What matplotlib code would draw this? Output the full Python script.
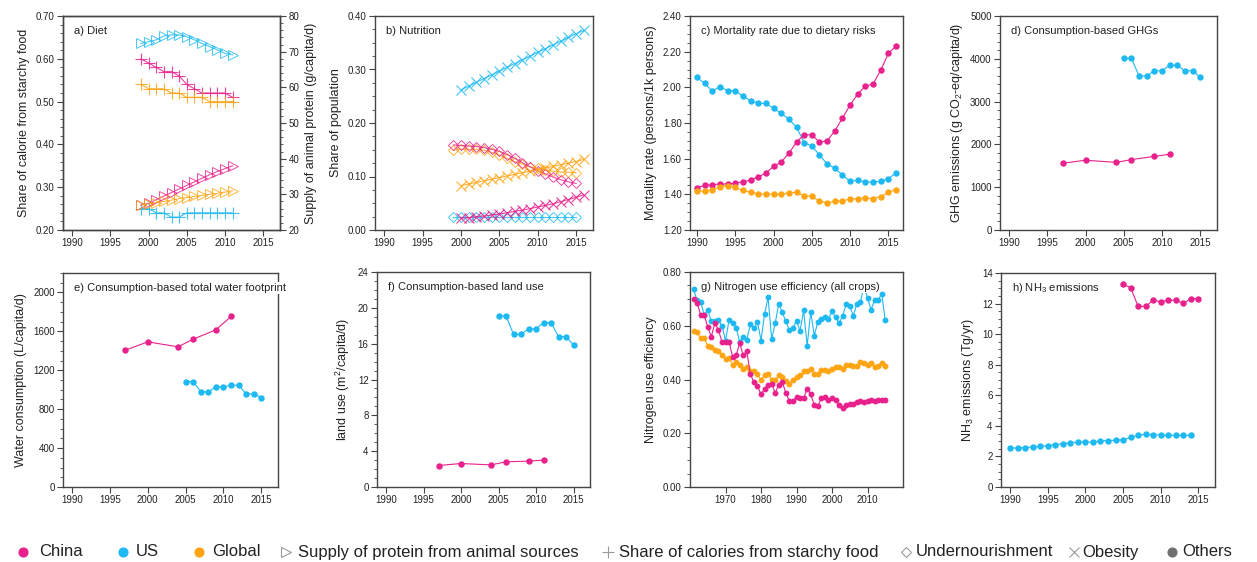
import matplotlib
matplotlib.use("Agg")
import matplotlib.pyplot as plt
from matplotlib.ticker import FormatStrFormatter, AutoMinorLocator, MultipleLocator

plt.rcParams['font.family'] = ['Liberation Sans', 'DejaVu Sans']
plt.rcParams['mathtext.fontset'] = 'custom'
plt.rcParams['mathtext.rm'] = 'Liberation Sans'
plt.rcParams['mathtext.it'] = 'Liberation Sans'

PINK = '#E8218C'
BLUE = '#1EB9F2'
ORANGE = '#FFA514'
TXT = '#222222'
SPINE = '#444444'

# ---------------- data ----------------
# a) Diet
years_a = list(range(1999, 2012))
starch_china = [0.60, 0.59, 0.58, 0.57, 0.57, 0.56, 0.54, 0.53, 0.52, 0.52, 0.52, 0.52, 0.51]
starch_global = [0.54, 0.53, 0.53, 0.53, 0.52, 0.52, 0.51, 0.51, 0.51, 0.50, 0.50, 0.50, 0.50]
starch_us = [0.25, 0.25, 0.24, 0.24, 0.23, 0.23, 0.24, 0.24, 0.24, 0.24, 0.24, 0.24, 0.24]
protein_us = [72.3, 72.8, 73.3, 74.4, 74.7, 74.7, 74.2, 73.3, 72.3, 71.4, 70.5, 69.5, 69.1]
protein_china = [27.0, 27.5, 28.5, 29.5, 30.5, 31.5, 32.5, 33.5, 34.5, 35.5, 36.4, 37.2, 38.0]
protein_global = [27.0, 27.3, 27.7, 28.0, 28.4, 28.8, 29.1, 29.4, 29.7, 30.0, 30.3, 30.6, 31.0]

# b) Nutrition
years_under = list(range(1999, 2016))
under_china = [0.159, 0.158, 0.157, 0.156, 0.154, 0.151, 0.147, 0.141, 0.134, 0.126, 0.118,
               0.111, 0.105, 0.099, 0.094, 0.090, 0.087]
under_global = [0.149, 0.151, 0.151, 0.151, 0.149, 0.145, 0.140, 0.134, 0.128, 0.123, 0.118,
                0.115, 0.112, 0.110, 0.108, 0.108, 0.107]
under_us = [0.025] * 17
years_obes = list(range(2000, 2017))
obes_us = [0.262, 0.269, 0.276, 0.283, 0.290, 0.297, 0.304, 0.311, 0.318, 0.325, 0.332,
           0.339, 0.346, 0.353, 0.360, 0.367, 0.373]
obes_global = [0.083, 0.086, 0.089, 0.092, 0.095, 0.098, 0.101, 0.104, 0.107, 0.110, 0.113,
               0.116, 0.119, 0.122, 0.125, 0.128, 0.132]
obes_china = [0.022, 0.023, 0.025, 0.026, 0.028, 0.030, 0.032, 0.035, 0.037, 0.040, 0.043,
              0.046, 0.049, 0.053, 0.057, 0.061, 0.066]

# c) Mortality
years_c = list(range(1990, 2017))
mort_us = [2.056, 2.022, 1.979, 2.004, 1.981, 1.981, 1.951, 1.925, 1.910, 1.910, 1.882, 1.854,
           1.822, 1.776, 1.690, 1.671, 1.621, 1.570, 1.546, 1.508, 1.473, 1.479, 1.469, 1.469,
           1.473, 1.488, 1.521]
mort_china = [1.436, 1.450, 1.454, 1.458, 1.458, 1.462, 1.471, 1.479, 1.499, 1.518, 1.557, 1.581,
              1.630, 1.692, 1.735, 1.733, 1.693, 1.701, 1.755, 1.828, 1.901, 1.963, 2.007, 2.019,
              2.097, 2.191, 2.232]
mort_global = [1.417, 1.419, 1.424, 1.443, 1.449, 1.439, 1.422, 1.411, 1.402, 1.402, 1.402, 1.400,
               1.409, 1.411, 1.392, 1.389, 1.361, 1.353, 1.361, 1.363, 1.374, 1.376, 1.378, 1.376,
               1.387, 1.413, 1.426]

# d) GHG
years_china_cb = [1997, 2000, 2004, 2006, 2009, 2011]
years_us_cb = list(range(2005, 2016))
ghg_china = [1560, 1630, 1580, 1645, 1720, 1770]
ghg_us = [4010, 4010, 3600, 3600, 3720, 3720, 3850, 3850, 3720, 3720, 3570]

# e) Water
water_china = [1406, 1492, 1441, 1520, 1616, 1753]
water_us = [1084, 1084, 978, 978, 1029, 1029, 1046, 1046, 957, 957, 919]

# f) Land
land_china = [2.40, 2.62, 2.47, 2.81, 2.89, 3.00]
land_us = [19.1, 19.1, 17.05, 17.05, 17.65, 17.65, 18.35, 18.35, 16.8, 16.8, 15.85]

# g) NUE
years_g = list(range(1961, 2016))
nue_us = [0.735, 0.695, 0.689, 0.640, 0.659, 0.616, 0.616, 0.620, 0.600, 0.545,
          0.620, 0.609, 0.593, 0.540, 0.558, 0.548, 0.605, 0.590, 0.615, 0.545,
          0.643, 0.706, 0.550, 0.610, 0.681, 0.650, 0.616, 0.583, 0.590, 0.619,
          0.581, 0.658, 0.525, 0.652, 0.563, 0.614, 0.626, 0.634, 0.624, 0.654,
          0.631, 0.611, 0.636, 0.681, 0.674, 0.637, 0.681, 0.689, 0.745, 0.704,
          0.660, 0.695, 0.695, 0.720, 0.620]
nue_china = [0.700, 0.685, 0.640, 0.640, 0.595, 0.560, 0.610, 0.585, 0.540, 0.540,
             0.540, 0.485, 0.490, 0.535, 0.490, 0.505, 0.420, 0.390, 0.375, 0.345,
             0.365, 0.380, 0.385, 0.350, 0.380, 0.390, 0.350, 0.320, 0.320, 0.335,
             0.330, 0.330, 0.365, 0.345, 0.305, 0.300, 0.330, 0.335, 0.325, 0.330,
             0.325, 0.305, 0.295, 0.305, 0.310, 0.310, 0.315, 0.320, 0.315, 0.320,
             0.325, 0.320, 0.322, 0.323, 0.323]
nue_global = [0.580, 0.575, 0.553, 0.555, 0.525, 0.520, 0.510, 0.505, 0.490, 0.475,
              0.480, 0.455, 0.465, 0.455, 0.440, 0.445, 0.430, 0.430, 0.420, 0.400,
              0.415, 0.420, 0.400, 0.400, 0.415, 0.410, 0.395, 0.385, 0.400, 0.410,
              0.415, 0.430, 0.430, 0.440, 0.420, 0.420, 0.435, 0.435, 0.432, 0.440,
              0.445, 0.445, 0.440, 0.455, 0.455, 0.450, 0.450, 0.465, 0.460, 0.455,
              0.460, 0.445, 0.450, 0.460, 0.450]

# h) NH3
years_h_us = list(range(1990, 2015))
nh3_us = [2.54, 2.56, 2.58, 2.62, 2.66, 2.70, 2.78, 2.82, 2.90, 2.94, 2.95, 2.92, 3.02, 3.04,
          3.06, 3.08, 3.24, 3.38, 3.45, 3.42, 3.40, 3.38, 3.38, 3.38, 3.38]
years_h_china = list(range(2005, 2016))
nh3_china = [13.26, 13.04, 11.82, 11.82, 12.22, 12.12, 12.22, 12.22, 12.02, 12.32, 12.32]

legend_labels = ['China', 'US', 'Global', 'Supply of protein from animal sources',
                 'Share of calories from starchy food', 'Undernourishment', 'Obesity', 'Others']

# ---------------- figure ----------------
W, H = 1257, 562
fig = plt.figure(figsize=(W / 100, H / 100), dpi=100)
YL = 9.0

def rect(l, r, t, b):
    return [l / W, (H - b) / H, (r - l) / W, (b - t) / H]

def style(ax, ylim, ystep, nminor, fmt, xlim=(1988.8, 2017.2), xticks=range(1990, 2016, 5)):
    ax.set_xlim(*xlim)
    ax.set_ylim(*ylim)
    ax.set_xticks(list(xticks))
    ax.yaxis.set_major_locator(MultipleLocator(ystep))
    ax.yaxis.set_minor_locator(AutoMinorLocator(nminor))
    ax.yaxis.set_major_formatter(FormatStrFormatter(fmt))
    ax.tick_params(axis='both', which='major', direction='out', length=4, width=0.8,
                   colors=SPINE, labelsize=7, labelcolor=TXT, pad=2)
    ax.tick_params(axis='y', which='minor', direction='out', length=2.2, width=0.6, colors=SPINE)
    ax.tick_params(axis='x', which='minor', bottom=False)
    for s in ax.spines.values():
        s.set_color(SPINE)
        s.set_linewidth(1.0)

def title(ax, txt):
    ax.text(0.05, 0.93, txt, transform=ax.transAxes, fontsize=8, color=TXT,
            va='center', ha='left', zorder=10,
            bbox=dict(facecolor='white', edgecolor='none', pad=0.6))

def dots(ax, x, y, c, ms=3.6):
    ax.plot(x, y, '-', color=c, lw=0.8, marker='o', ms=ms, mec=c, mfc=c, zorder=3)

# a) Diet
ax = fig.add_axes(rect(63, 280, 16, 230))
style(ax, (0.2, 0.7), 0.1, 5, '%.2f')
ax.tick_params(axis='y', right=False)
ax2 = ax.twinx()
ax2.set_ylim(20, 80)
ax2.yaxis.set_major_locator(MultipleLocator(10))
ax2.yaxis.set_minor_locator(AutoMinorLocator(5))
ax2.tick_params(axis='y', which='major', direction='out', length=4, width=0.8, colors=SPINE,
                labelsize=7, labelcolor=TXT, pad=2)
ax2.tick_params(axis='y', which='minor', direction='out', length=2.2, width=0.6, colors=SPINE)
for s in ax2.spines.values():
    s.set_color(SPINE); s.set_linewidth(1.0)
kw_p = dict(lw=0.8, marker='+', ms=9, mew=0.8, alpha=0.85)
ax.plot(years_a, starch_china, color=PINK, **kw_p)
ax.plot(years_a, starch_global, color=ORANGE, **kw_p)
ax.plot(years_a, starch_us, color=BLUE, **kw_p)
kw_t = dict(lw=0.8, marker='>', ms=7, mew=0.7, mfc='none', alpha=0.8)
ax2.plot(years_a, protein_us, color=BLUE, mec=BLUE, **kw_t)
ax2.plot(years_a, protein_china, color=PINK, mec=PINK, **kw_t)
ax2.plot(years_a, protein_global, color=ORANGE, mec=ORANGE, **kw_t)
ax.set_ylabel('Share of calorie from starchy food', fontsize=YL, color=TXT, labelpad=4)
ax2.set_ylabel('Supply of animal protein (g/capita/d)', fontsize=YL, color=TXT, labelpad=4)
title(ax2, 'a) Diet')

# b) Nutrition
ax = fig.add_axes(rect(375, 593, 16, 230))
style(ax, (0, 0.4), 0.1, 4, '%.2f')
kw_d = dict(lw=0.8, marker='D', ms=5.5, mew=0.7, mfc='none', alpha=0.8)
kw_x = dict(lw=0.8, marker='x', ms=7, mew=0.8, alpha=0.85)
ax.plot(years_under, under_us, color=BLUE, mec=BLUE, **kw_d)
ax.plot(years_under, under_global, color=ORANGE, mec=ORANGE, **kw_d)
ax.plot(years_under, under_china, color=PINK, mec=PINK, **kw_d)
ax.plot(years_obes, obes_us, color=BLUE, **kw_x)
ax.plot(years_obes, obes_global, color=ORANGE, **kw_x)
ax.plot(years_obes, obes_china, color=PINK, **kw_x)
ax.set_ylabel('Share of population', fontsize=YL, color=TXT, labelpad=4)
title(ax, 'b) Nutrition')

# c) Mortality
ax = fig.add_axes(rect(690, 903, 16, 230))
style(ax, (1.2, 2.4), 0.2, 4, '%.2f', xlim=(1989.1, 2016.9))
dots(ax, years_c, mort_us, BLUE)
dots(ax, years_c, mort_china, PINK)
dots(ax, years_c, mort_global, ORANGE)
ax.set_ylabel('Mortality rate (persons/1k persons)', fontsize=YL, color=TXT, labelpad=4)
title(ax, 'c) Mortality rate due to dietary risks')

# d) GHG
ax = fig.add_axes(rect(1000, 1217, 16, 230))
style(ax, (0, 5000), 1000, 5, '%d')
dots(ax, years_us_cb, ghg_us, BLUE)
dots(ax, years_china_cb, ghg_china, PINK)
ax.set_ylabel('GHG emissions (g CO$_2$-eq/capita/d)', fontsize=YL, color=TXT, labelpad=4)
title(ax, 'd) Consumption-based GHGs')

# e) Water
ax = fig.add_axes(rect(63, 278, 273, 487))
style(ax, (0, 2200), 400, 4, '%d')
dots(ax, years_china_cb, water_china, PINK)
dots(ax, years_us_cb, water_us, BLUE)
ax.set_ylabel('Water consumption (L/capita/d)', fontsize=YL, color=TXT, labelpad=4)
title(ax, 'e) Consumption-based total water footprint')

# f) Land
ax = fig.add_axes(rect(377, 590, 272, 487))
style(ax, (0, 24), 4, 4, '%d')
dots(ax, years_us_cb, land_us, BLUE)
dots(ax, years_china_cb, land_china, PINK)
ax.set_ylabel('land use (m$^2$/capita/d)', fontsize=YL, color=TXT, labelpad=4)
title(ax, 'f) Consumption-based land use')

# g) NUE
ax = fig.add_axes(rect(690, 903, 272, 487))
style(ax, (0, 0.8), 0.2, 4, '%.2f', xlim=(1960, 2020), xticks=range(1970, 2011, 10))
dots(ax, years_g, nue_us, BLUE, ms=3.2)
dots(ax, years_g, nue_global, ORANGE, ms=3.2)
dots(ax, years_g, nue_china, PINK, ms=3.2)
ax.set_ylabel('Nitrogen use efficiency', fontsize=YL, color=TXT, labelpad=4)
title(ax, 'g) Nitrogen use efficiency (all crops)')

# h) NH3
ax = fig.add_axes(rect(1001, 1215, 273, 487))
style(ax, (0, 14), 2, 4, '%d')
dots(ax, years_h_us, nh3_us, BLUE)
dots(ax, years_h_china, nh3_china, PINK)
ax.set_ylabel('NH$_3$ emissions (Tg/yr)', fontsize=YL, color=TXT, labelpad=4)
title(ax, 'h) NH$_3$ emissions')

# ---------------- legend strip ----------------
lg = fig.add_axes([0, 0, 1, 40 / H])
lg.set_xlim(0, W)
lg.set_ylim(0, 40)
lg.axis('off')
GRAY = '#9a9a9a'
items = [
    (23, 39, 'o', PINK, PINK, 6.5),
    (123, 136, 'o', BLUE, BLUE, 6.5),
    (199, 212, 'o', ORANGE, ORANGE, 6.5),
    (286, 298, '>', GRAY, 'none', 6.5),
    (608, 619, '+', GRAY, GRAY, 8),
    (906, 916, 'D', GRAY, 'none', 5.5),
    (1074, 1082, 'x', GRAY, GRAY, 7),
    (1172, 1182, 'o', '#707070', '#707070', 6.5),
]
ly = 10
for (mx, tx, m, mc, mf, ms), lab in zip(items, legend_labels):
    lg.plot([mx], [ly], marker=m, ms=ms, mec=mc, mfc=mf, mew=0.8, ls='none')
    lg.text(tx, ly, lab, fontsize=12, color=TXT, va='center', ha='left')

fig.savefig('out.png', dpi=100)
